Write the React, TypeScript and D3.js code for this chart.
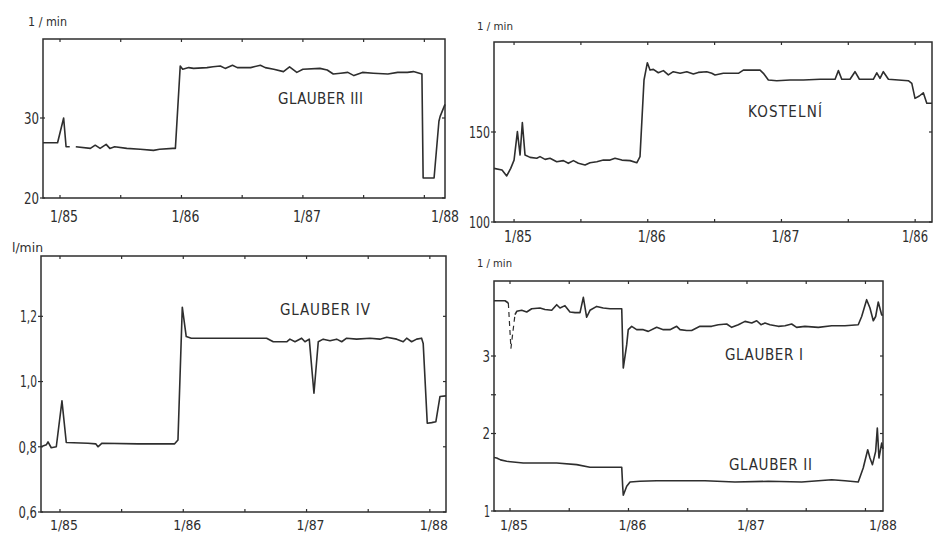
import React from "react";
import * as d3 from "d3";

type Pt = [number, number] | null;

// ---------- DATA (decimal year, l/min) ----------
const glauberIII: Pt[] = [
  [1984.86, 26.9], [1984.98, 26.9], [1985.03, 30.0], [1985.05, 26.4], [1985.08, 26.4], null,
  [1985.13, 26.4], [1985.25, 26.2], [1985.29, 26.6], [1985.33, 26.2], [1985.38, 26.7], [1985.41, 26.2],
  [1985.45, 26.4], [1985.55, 26.2], [1985.66, 26.1], [1985.77, 25.95], [1985.82, 26.1], [1985.93, 26.2],
  [1985.95, 26.2], [1985.99, 36.5], [1986.01, 36.1], [1986.06, 36.3], [1986.10, 36.2], [1986.21, 36.3],
  [1986.26, 36.4], [1986.32, 36.5], [1986.36, 36.2], [1986.42, 36.6], [1986.46, 36.3], [1986.57, 36.3],
  [1986.65, 36.6], [1986.69, 36.3], [1986.76, 36.1], [1986.84, 35.8], [1986.89, 36.4], [1986.95, 35.7],
  [1987.0, 36.1], [1987.14, 36.2], [1987.2, 36.0], [1987.25, 35.5], [1987.31, 35.6], [1987.37, 35.7],
  [1987.42, 35.3], [1987.49, 35.7], [1987.58, 35.6], [1987.7, 35.5], [1987.78, 35.7], [1987.86, 35.7],
  [1987.91, 35.8], [1987.98, 35.5], [1987.99, 22.5], [1988.08, 22.5], [1988.12, 29.6], [1988.13, 30.2],
  [1988.17, 31.7],
];

const kostelni: Pt[] = [
  [1984.85, 129.8], [1984.91, 128.9], [1984.945, 125.6], [1984.975, 129.8], [1985.0, 134.4],
  [1985.025, 150.2], [1985.045, 137.2], [1985.062, 155.2], [1985.082, 137.2], [1985.12, 135.9],
  [1985.17, 135.4], [1985.194, 136.3], [1985.232, 134.8], [1985.269, 135.4], [1985.319, 133.5],
  [1985.369, 134.1], [1985.406, 132.6], [1985.444, 134.1], [1985.481, 132.6], [1985.531, 131.7],
  [1985.568, 132.9], [1985.619, 133.5], [1985.668, 134.4], [1985.718, 134.4], [1985.755, 135.4],
  [1985.806, 134.4], [1985.868, 134.1], [1985.918, 132.9], [1985.942, 136.3], [1985.972, 178.9],
  [1985.997, 188.5], [1986.017, 184.4], [1986.042, 184.8], [1986.079, 182.9], [1986.117, 184.1],
  [1986.154, 181.7], [1986.191, 183.5], [1986.242, 182.6], [1986.292, 183.5], [1986.341, 182.2],
  [1986.378, 183.1], [1986.441, 183.5], [1986.479, 182.6], [1986.503, 181.7], [1986.565, 182.6],
  [1986.678, 182.6], [1986.715, 184.4], [1986.84, 184.4], [1986.865, 182.6], [1986.902, 178.9],
  [1986.965, 178.5], [1987.064, 178.9], [1987.164, 178.9], [1987.289, 179.3], [1987.401, 179.3],
  [1987.426, 184.1], [1987.451, 179.3], [1987.513, 179.3], [1987.55, 183.5], [1987.583, 179.3],
  [1987.687, 179.3], [1987.713, 182.9], [1987.737, 179.8], [1987.762, 183.5], [1987.8, 179.3],
  [1987.949, 178.5], [1987.975, 177.0], [1987.999, 168.7], [1988.031, 170.0], [1988.061, 171.8],
  [1988.087, 166.0], [1988.126, 166.0],
];

const glauberIV: Pt[] = [
  [1984.846, 0.8], [1984.889, 0.806], [1984.903, 0.815], [1984.929, 0.797], [1984.97, 0.8],
  [1985.016, 0.941], [1985.051, 0.813], [1985.227, 0.811], [1985.29, 0.809], [1985.308, 0.8],
  [1985.341, 0.811], [1985.633, 0.809], [1985.93, 0.809], [1985.957, 0.821], [1985.992, 1.228],
  [1986.024, 1.138], [1986.065, 1.133], [1986.525, 1.133], [1986.676, 1.133], [1986.73, 1.122],
  [1986.839, 1.122], [1986.865, 1.13], [1986.906, 1.122], [1986.96, 1.133], [1986.987, 1.122],
  [1987.022, 1.13], [1987.06, 0.964], [1987.095, 1.122], [1987.135, 1.13], [1987.19, 1.125],
  [1987.244, 1.13], [1987.285, 1.122], [1987.325, 1.133], [1987.406, 1.13], [1987.514, 1.133],
  [1987.595, 1.13], [1987.65, 1.136], [1987.731, 1.13], [1987.784, 1.122], [1987.812, 1.133],
  [1987.852, 1.122], [1987.893, 1.13], [1987.933, 1.133], [1987.946, 1.117], [1987.979, 0.872],
  [1988.015, 0.874], [1988.049, 0.877], [1988.082, 0.954], [1988.131, 0.956],
];

const glauberI: Pt[] = [
  [1984.865, 3.713], [1984.958, 3.713], [1984.986, 3.684], null,
  [1985.042, 3.534], [1985.057, 3.577], [1985.099, 3.59], [1985.141, 3.568], [1985.183, 3.61],
  [1985.253, 3.62], [1985.295, 3.6], [1985.352, 3.59], [1985.394, 3.662], [1985.422, 3.62],
  [1985.464, 3.65], [1985.506, 3.568], [1985.549, 3.56], [1985.591, 3.56], [1985.619, 3.757],
  [1985.647, 3.5], [1985.675, 3.59], [1985.732, 3.64], [1985.787, 3.62], [1985.844, 3.61],
  [1985.943, 3.61], [1985.956, 2.845], [1985.985, 3.146], [1985.998, 3.34], [1986.027, 3.383],
  [1986.069, 3.34], [1986.125, 3.34], [1986.167, 3.318], [1986.238, 3.37], [1986.294, 3.34],
  [1986.35, 3.34], [1986.407, 3.383], [1986.435, 3.34], [1986.491, 3.33], [1986.533, 3.33],
  [1986.603, 3.383], [1986.702, 3.383], [1986.758, 3.404], [1986.829, 3.413], [1986.871, 3.37],
  [1986.927, 3.404], [1986.983, 3.447], [1987.04, 3.426], [1987.082, 3.455], [1987.118, 3.404],
  [1987.152, 3.426], [1987.194, 3.404], [1987.264, 3.383], [1987.321, 3.39], [1987.377, 3.413],
  [1987.419, 3.37], [1987.489, 3.383], [1987.602, 3.37], [1987.715, 3.39], [1987.827, 3.39],
  [1987.939, 3.404], [1987.968, 3.51], [1988.01, 3.727], [1988.038, 3.62], [1988.066, 3.455],
  [1988.086, 3.51], [1988.108, 3.697], [1988.137, 3.53], [1988.148, 3.53],
];

const glauberIDip: Pt[] = [
  [1984.986, 3.684], [1985.008, 3.1], [1985.042, 3.534],
];

const glauberII: Pt[] = [
  [1984.865, 1.69], [1984.888, 1.684], [1984.92, 1.66], [1984.972, 1.641], [1985.112, 1.619],
  [1985.394, 1.619], [1985.563, 1.598], [1985.675, 1.564], [1985.943, 1.564], [1985.951, 1.319],
  [1985.956, 1.203], [1985.985, 1.319], [1986.013, 1.374], [1986.097, 1.383], [1986.238, 1.391],
  [1986.477, 1.391], [1986.646, 1.391], [1986.899, 1.374], [1987.18, 1.383], [1987.462, 1.374],
  [1987.715, 1.404], [1987.827, 1.391], [1987.939, 1.374], [1987.981, 1.555], [1988.019, 1.791],
  [1988.038, 1.684], [1988.059, 1.598], [1988.086, 1.77], [1988.1, 2.07], [1988.114, 1.684],
  [1988.137, 1.877], [1988.148, 1.8],
];

const halfYearTicks = [1985, 1985.5, 1986, 1986.5, 1987, 1987.5, 1988];
const yearTicks = [1985, 1986, 1987, 1988];
const yearLabels = ["1/85", "1/86", "1/87", "1/88"];
const kostelniYearLabels = ["1/85", "1/86", "1/87", "1/86"];

const glauberIIIYTicks = [20, 30];
const glauberIIIYLabels = ["20", "30"];
const kostelniYTicks = [100, 150];
const kostelniYLabels = ["100", "150"];
const glauberIVYTicks = [0.6, 0.8, 1.0, 1.2];
const glauberIVYLabels = ["0,6", "0,8", "1,0", "1,2"];
const glauberIIYTicks = [1, 2, 2.5, 3];
const glauberIIYLabels = ["1", "2", "", "3"];

// ---------- STYLE ----------
const FONT = '"DejaVu Sans Condensed", "Liberation Sans Narrow", "DejaVu Sans", sans-serif';
const INK = "#2e2e2e";

type SeriesCfg = { data: Pt[]; dashed?: boolean };
type LabelCfg = { text: string; t: number; v: number; len: number };
type PanelCfg = {
  left: number; right: number; top: number; bottom: number;
  xDomain: [number, number]; yDomain: [number, number];
  yTicks: number[]; yLabels: string[];
  xLabels: string[]; xLabelBaseline: number; xLabelSize: number; lastLabel: "edge" | "end" | "tick";
  unit: string; unitX: number; unitY: number; unitSize: number; unitLen: number;
  series: SeriesCfg[]; labels: LabelCfg[];
};

const panels: PanelCfg[] = [
  {
    left: 43, right: 445, top: 39, bottom: 198,
    xDomain: [1984.86, 1988.17], yDomain: [20, 39.875],
    yTicks: glauberIIIYTicks, yLabels: glauberIIIYLabels,
    xLabels: yearLabels, xLabelBaseline: 222, xLabelSize: 16, lastLabel: "edge",
    unit: "1 / min", unitX: 28, unitY: 26, unitSize: 12, unitLen: 39,
    series: [{ data: glauberIII }],
    labels: [{ text: "GLAUBER III", t: 1986.795, v: 31.75, len: 85 }],
  },
  {
    left: 494, right: 932, top: 42, bottom: 222,
    xDomain: [1984.85, 1988.126], yDomain: [100, 200],
    yTicks: kostelniYTicks, yLabels: kostelniYLabels,
    xLabels: kostelniYearLabels, xLabelBaseline: 242, xLabelSize: 16, lastLabel: "end",
    unit: "1 / min", unitX: 477, unitY: 30, unitSize: 11, unitLen: 36,
    series: [{ data: kostelni }],
    labels: [{ text: "KOSTELNÍ", t: 1986.75, v: 158.3, len: 74 }],
  },
  {
    left: 41, right: 446, top: 256, bottom: 512,
    xDomain: [1984.846, 1988.131], yDomain: [0.6, 1.385],
    yTicks: glauberIVYTicks, yLabels: glauberIVYLabels,
    xLabels: yearLabels, xLabelBaseline: 530, xLabelSize: 14.5, lastLabel: "tick",
    unit: "l/min", unitX: 12, unitY: 252, unitSize: 13, unitLen: 31,
    series: [{ data: glauberIV }],
    labels: [{ text: "GLAUBER IV", t: 1986.784, v: 1.204, len: 90 }],
  },
  {
    left: 494, right: 883, top: 281, bottom: 511,
    xDomain: [1984.865, 1988.148], yDomain: [1, 3.968],
    yTicks: glauberIIYTicks, yLabels: glauberIIYLabels,
    xLabels: yearLabels, xLabelBaseline: 530, xLabelSize: 14.5, lastLabel: "edge",
    unit: "1 / min", unitX: 477, unitY: 267, unitSize: 11, unitLen: 35,
    series: [{ data: glauberI }, { data: glauberIDip, dashed: true }, { data: glauberII }],
    labels: [
      { text: "GLAUBER I", t: 1986.814, v: 2.948, len: 78 },
      { text: "GLAUBER II", t: 1986.848, v: 1.529, len: 83 },
    ],
  },
];

function yLabelLen(s: string) {
  let w = 0;
  for (const c of s) w += c === "," ? 3.5 : c === "1" ? 6 : 7.5;
  return w;
}

function Panel({ cfg }: { cfg: PanelCfg }) {
  const x = d3.scaleLinear().domain(cfg.xDomain).range([cfg.left, cfg.right]);
  const y = d3.scaleLinear().domain(cfg.yDomain).range([cfg.bottom, cfg.top]);
  const line = d3
    .line<Pt>()
    .defined((d) => d !== null)
    .x((d) => x((d as [number, number])[0]))
    .y((d) => y((d as [number, number])[1]));

  return (
    <g>
      <rect
        x={cfg.left}
        y={cfg.top}
        width={cfg.right - cfg.left}
        height={cfg.bottom - cfg.top}
        fill="none"
        stroke={INK}
        strokeWidth={1.5}
      />
      {halfYearTicks.map((t) => (
        <g key={"xt" + t}>
          <line x1={x(t)} x2={x(t)} y1={cfg.bottom} y2={cfg.bottom - 3} stroke={INK} strokeWidth={1.2} />
          <line x1={x(t)} x2={x(t)} y1={cfg.top} y2={cfg.top + 3} stroke={INK} strokeWidth={1.2} />
        </g>
      ))}
      {cfg.yTicks.map((v, i) => (
        <g key={"yt" + v}>
          <line x1={cfg.left - 3} x2={cfg.left + 2} y1={y(v)} y2={y(v)} stroke={INK} strokeWidth={1.2} />
          <line x1={cfg.right} x2={cfg.right - 3} y1={y(v)} y2={y(v)} stroke={INK} strokeWidth={1.2} />
          {cfg.yLabels[i] ? (
            <text
              x={cfg.left - 4}
              y={y(v)}
              dy="0.36em"
              textAnchor="end"
              fontFamily={FONT}
              fontSize={16}
              textLength={yLabelLen(cfg.yLabels[i])}
              lengthAdjust="spacingAndGlyphs"
              fill={INK}
            >
              {cfg.yLabels[i]}
            </text>
          ) : null}
        </g>
      ))}
      {yearTicks.map((t, i) => {
        const isLast = i === yearTicks.length - 1;
        let lx = x(t) + 4;
        let anchor: "middle" | "end" = "middle";
        if (isLast && cfg.lastLabel === "edge") lx = cfg.right;
        if (isLast && cfg.lastLabel === "end") {
          lx = cfg.right - 4;
          anchor = "end";
        }
        return (
          <text
            key={"xl" + t}
            x={lx}
            y={cfg.xLabelBaseline}
            textAnchor={anchor}
            fontFamily={FONT}
            fontSize={cfg.xLabelSize}
            textLength={isLast && cfg.lastLabel === "end" ? 26 : 28}
            lengthAdjust="spacingAndGlyphs"
            fill={INK}
          >
            {cfg.xLabels[i]}
          </text>
        );
      })}
      <text
        x={cfg.unitX}
        y={cfg.unitY}
        fontFamily={FONT}
        fontSize={cfg.unitSize}
        textLength={cfg.unitLen}
        lengthAdjust="spacingAndGlyphs"
        fill={INK}
      >
        {cfg.unit}
      </text>
      {cfg.series.map((s, i) => (
        <path
          key={"s" + i}
          d={line(s.data) || ""}
          fill="none"
          stroke={INK}
          strokeWidth={s.dashed ? 1.2 : 1.6}
          strokeLinejoin="round"
          strokeDasharray={s.dashed ? "5,4" : undefined}
        />
      ))}
      {cfg.labels.map((l) => (
        <text
          key={l.text}
          x={x(l.t)}
          y={y(l.v)}
          fontFamily={FONT}
          fontSize={15}
          textLength={l.len}
          lengthAdjust="spacing"
          fill={INK}
        >
          {l.text}
        </text>
      ))}
    </g>
  );
}

export default function App() {
  return (
    <svg
      width={934}
      height={535}
      viewBox="0 0 934 535"
      style={{ position: "absolute", left: 0, top: 0, background: "#ffffff" }}
    >
      <rect x={0} y={0} width={934} height={535} fill="#ffffff" />
      {panels.map((p, i) => (
        <Panel key={i} cfg={p} />
      ))}
    </svg>
  );
}
